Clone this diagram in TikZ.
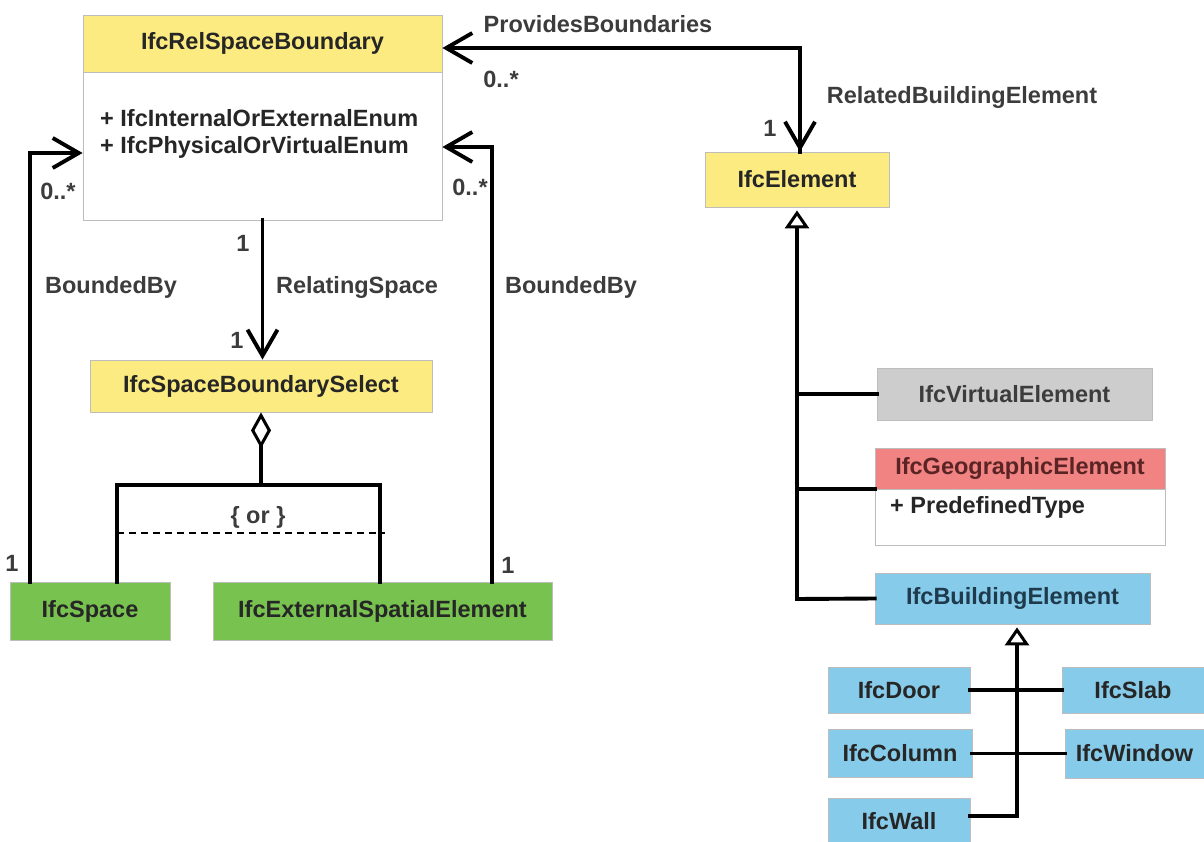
\documentclass[tikz,border=0pt]{standalone}
\usepackage{fontspec}
\setmainfont{Liberation Sans}
\usetikzlibrary{arrows.meta}
\definecolor{ylw}{HTML}{FCEB80}
\definecolor{grn}{HTML}{78C250}
\definecolor{gry}{HTML}{CDCDCD}
\definecolor{red}{HTML}{F28383}
\definecolor{blu}{HTML}{86CBEA}
\definecolor{edge}{HTML}{BDBDBD}
\definecolor{txt}{HTML}{262626}
\definecolor{lbl}{HTML}{3C3C3C}
\definecolor{redtxt}{HTML}{5A2424}
\definecolor{blutxt}{HTML}{1E3A4C}
\tikzset{
  cls/.style={draw=edge, line width=0.8pt, inner sep=0pt, text=txt, minimum width=#1},
  lab/.style={text=lbl, inner sep=0pt},
  conn/.style={line width=3.9pt, line cap=rect},
  assoc/.style={conn, -{Straight Barb[length=26pt,width=30pt]}},
  gen/.style={line width=3.9pt, -{Triangle[open,length=18pt,width=24pt,line width=3pt]}},
  agg/.style={line width=3.9pt, {Diamond[open,length=36pt,width=20pt,line width=3pt]}-},
}
\begin{document}
\begin{tikzpicture}[x=1pt,y=-1pt,font=\fontsize{23.5}{27}\selectfont\bfseries]
\useasboundingbox[fill=white] (0,0) rectangle (1204,842);

% IfcRelSpaceBoundary
\node[cls=359pt, fill=ylw, minimum height=57pt] (rsbh) at (262.5,43.5) {IfcRelSpaceBoundary};
\node[cls=359pt, fill=white, minimum height=148pt] (rsb) at (262.5,146) {};
\node[anchor=west, text=txt, inner sep=0pt] (at1) at (100,118) {+ IfcInternalOrExternalEnum};
\node[anchor=west, text=txt, inner sep=0pt] (at2) at (100,147) {+ IfcPhysicalOrVirtualEnum};

% IfcElement
\node[cls=184pt, fill=ylw, minimum height=55pt] (el) at (797,179.5) {IfcElement};

% IfcSpaceBoundarySelect
\node[cls=342pt, fill=ylw, minimum height=52pt] (sbs) at (261,386) {IfcSpaceBoundarySelect};

% green
\node[cls=160pt, fill=grn, minimum height=58pt] (sp) at (90,611) {IfcSpace};
\node[cls=339pt, fill=grn, minimum height=58pt] (ese) at (382.5,611) {IfcExternalSpatialElement};

% right column
\node[cls=275pt, fill=gry, minimum height=52pt, text=lbl] (ve) at (1014.5,394) {IfcVirtualElement};
\node[cls=290pt, fill=red, minimum height=41pt, text=redtxt] (gh) at (1020,468.5) {IfcGeographicElement};
\node[cls=290pt, fill=white, minimum height=56pt] (gb) at (1020,517) {};
\node[anchor=west, text=txt, inner sep=0pt] (pt) at (890,507) {+ PredefinedType};
\node[cls=275pt, fill=blu, minimum height=51pt, text=blutxt] (be) at (1012.5,598.5) {IfcBuildingElement};

\node[cls=142pt, fill=blu, minimum height=46pt] (door) at (899,690) {IfcDoor};
\node[cls=142pt, fill=blu, minimum height=46pt] (slab) at (1133,690) {IfcSlab};
\node[cls=144pt, fill=blu, minimum height=48pt] (col) at (900,753.5) {IfcColumn};
\node[cls=139pt, fill=blu, minimum height=49pt] (win) at (1134.5,753.5) {IfcWindow};
\node[cls=142pt, fill=blu, minimum height=46pt] (wall) at (899,821) {IfcWall};

% coordinates
\coordinate (lb) at (30,153);
\coordinate (rb) at (492,147);
\coordinate (pb) at (800,48);
\coordinate (orl) at (117,485);
\coordinate (orj) at (261,485);
\coordinate (orr) at (380,485);
\coordinate (dl) at (117,533);
\coordinate (dr) at (385,533);
\coordinate (gv) at (797,599);
\coordinate (bv) at (1017,816);

% BoundedBy left
\draw[assoc] (sp.north -| lb) -- (lb) -- (rsb.west |- lb);
% BoundedBy right
\draw[assoc] (ese.north -| rb) -- (rb) -- (rsb.east |- rb);
% ProvidesBoundaries
\draw[assoc] (pb |- el.north) -- (pb) -- (rsbh.east |- pb);
\draw[assoc] (pb) -- (pb |- el.north);
% RelatingSpace
\draw[assoc] (rsb.south) -- (rsb.south |- sbs.north);
% aggregation
\draw[agg] (sbs.south) -- (orj);
\draw[conn] (sp.north -| orl) -- (orl) -- (orr) -- (ese.north -| orr);
\draw[line width=2.2pt, dash pattern=on 7pt off 5pt] (dl) -- (dr);
\node[lab] (or) at (258,517) {\{ or \}};

% generalization IfcElement
\draw[gen, shorten >=3pt] (gv) -- (gv |- el.south);
\draw[conn] (gv |- ve.west) -- (ve.west);
\draw[conn] (gv |- gb.north) -- (gb.north west);
\draw[conn] (gv) -- (be.west);

% generalization IfcBuildingElement
\draw[gen, shorten >=3pt] (bv) -- (bv |- be.south);
\draw[conn] (door.east) -- (slab.west);
\draw[conn] (col.east) -- (win.west);
\draw[conn] (wall.east |- bv) -- (bv);

% labels
\node[lab] (l1) at (598,24) {ProvidesBoundaries};
\node[lab] (l2) at (501,79) {0..*};
\node[lab] (l3) at (962,97) {RelatedBuildingElement};
\node[lab] (l4) at (770,128) {1};
\node[lab] (l5) at (58,191) {0..*};
\node[lab] (l6) at (470,187) {0..*};
\node[lab] (l7) at (243,243) {1};
\node[lab] (l8) at (237,340) {1};
\node[lab] (l9) at (111,287) {BoundedBy};
\node[lab] (l10) at (357,287) {RelatingSpace};
\node[lab] (l11) at (571,287) {BoundedBy};
\node[lab] (l12) at (12,563) {1};
\node[lab] (l13) at (508,565) {1};
\end{tikzpicture}
\end{document}
